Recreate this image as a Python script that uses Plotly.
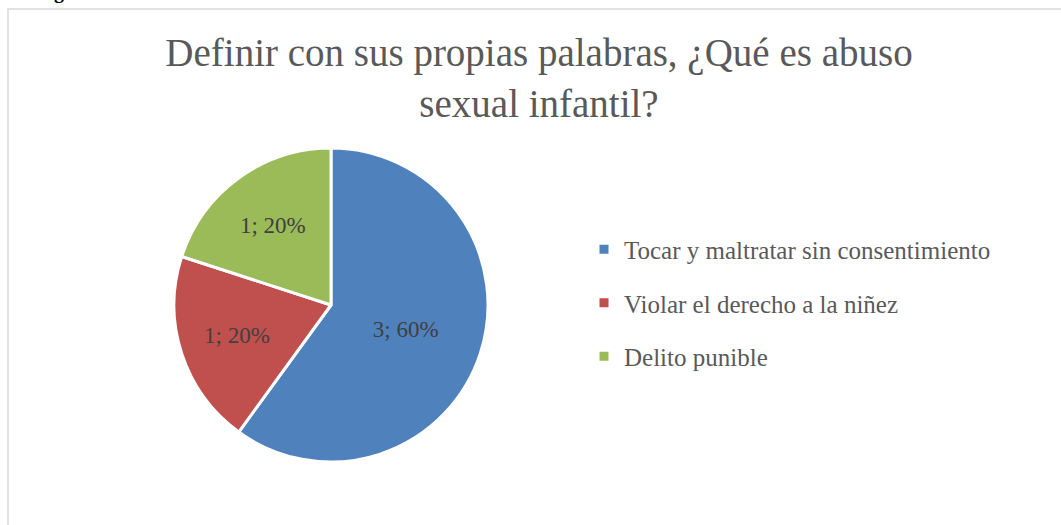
import plotly.graph_objects as go

categories = ["Tocar y maltratar sin consentimiento", "Violar el derecho a la niñez", "Delito punible"]
values = [3, 1, 1]
colors = ["#4F81BD", "#C0504D", "#9BBB59"]
title_text = "Definir con sus propias palabras, ¿Qué es abuso<br>sexual infantil?"

W, H = 1061, 525
SERIF = "Liberation Serif"

fig = go.Figure()
fig.add_trace(go.Pie(
    labels=categories, values=values, sort=False, direction="clockwise", rotation=0,
    marker=dict(colors=colors, line=dict(color="white", width=3)),
    texttemplate="%{value}; %{percent:.0%}", textposition="inside",
    insidetextorientation="horizontal",
    textfont=dict(family=SERIF, size=23, color="#404040"),
    showlegend=False,
    domain=dict(x=[174 / W, 488 / W], y=[1 - 462 / H, 1 - 148 / H]),
))
for c, col in zip(categories, colors):
    fig.add_trace(go.Scatter(
        x=[None], y=[None], mode="markers", name=c, legendgroup=c,
        marker=dict(symbol="square", size=9, color=col), showlegend=True,
    ))

fig.update_layout(
    width=W, height=H,
    margin=dict(l=0, r=0, t=0, b=0),
    paper_bgcolor="white", plot_bgcolor="white",
    xaxis=dict(visible=False), yaxis=dict(visible=False),
    title=dict(text=title_text, x=539 / W, xanchor="center", y=1 - 66 / H, yanchor="top",
               font=dict(family=SERIF, size=39, color="#595959")),
    legend=dict(x=584 / W, xanchor="left", y=1 - 303 / H, yanchor="middle",
                tracegroupgap=18, font=dict(family=SERIF, size=25, color="#595959"),
                bgcolor="rgba(0,0,0,0)"),
    shapes=[dict(type="rect", xref="paper", yref="paper", x0=8 / W, x1=1.2, y0=-0.2, y1=1 - 9 / H,
                 line=dict(color="#D9D9D9", width=1.5), fillcolor="rgba(0,0,0,0)", layer="below")],
    annotations=[dict(text="<b>g</b>", x=52 / W, xanchor="left", y=1, yanchor="bottom", yshift=-5,
                      xref="paper", yref="paper", showarrow=False,
                      font=dict(family=SERIF, size=20, color="black"))],
)

fig.write_html("out.html", config={"displayModeBar": False},
               post_script="document.body.style.margin='0px';")
